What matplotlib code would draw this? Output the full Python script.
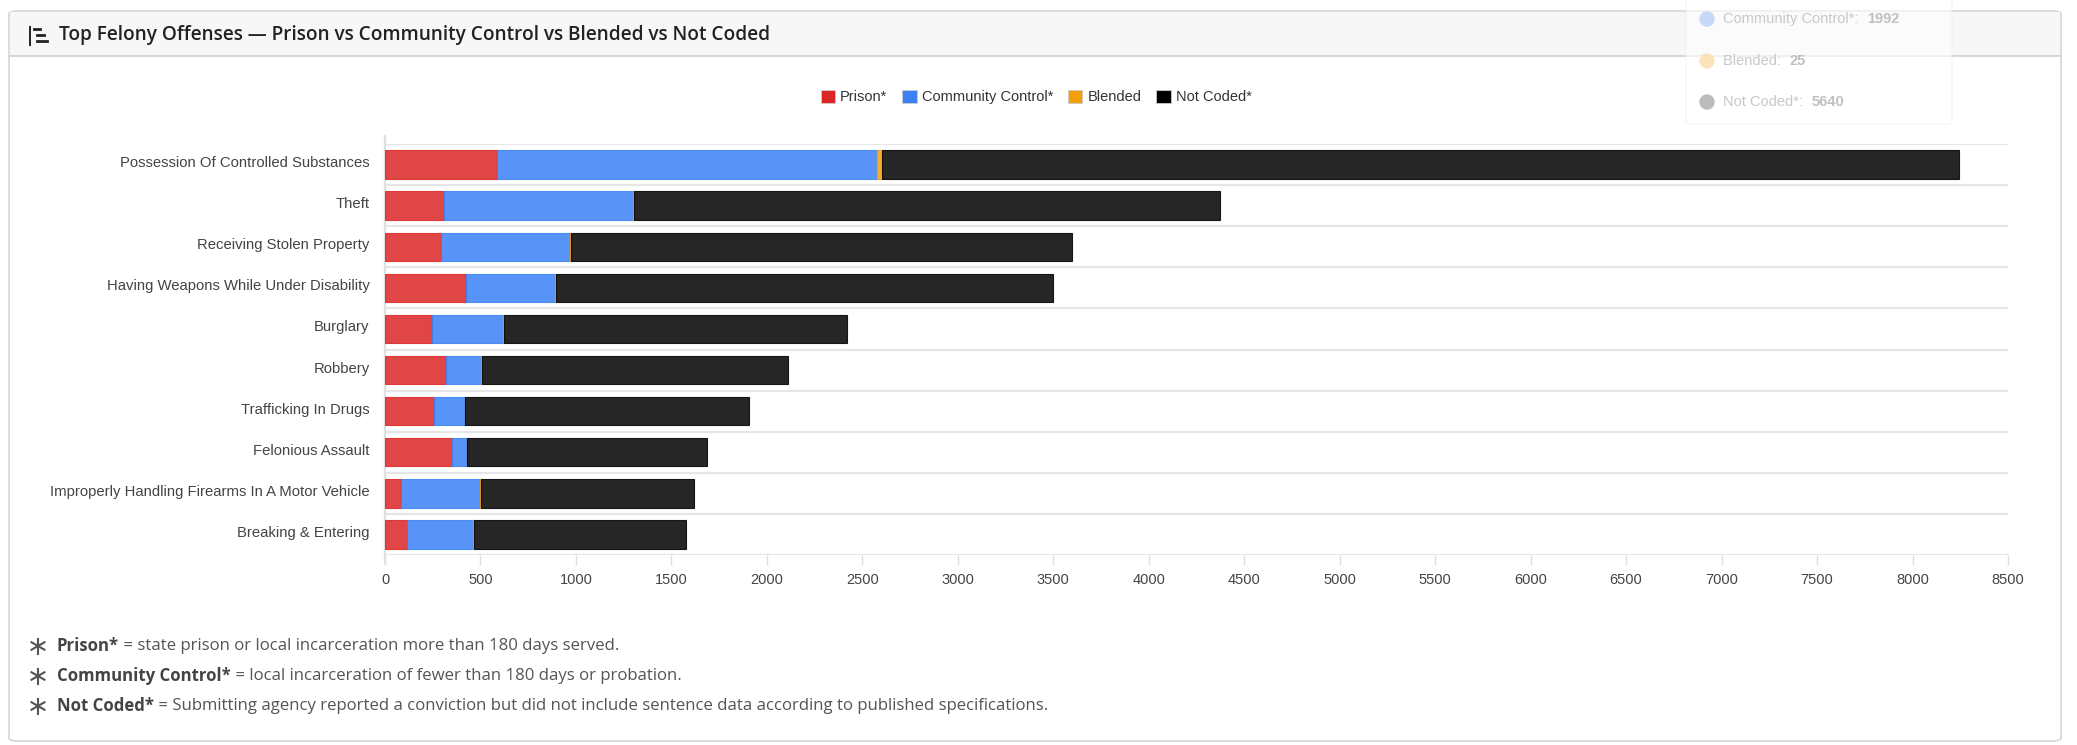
import math
import matplotlib.pyplot as plt
import matplotlib.transforms as mtransforms
from matplotlib.patches import Patch, FancyBboxPatch, Rectangle, Ellipse
from matplotlib.lines import Line2D

offenses = [
    "Possession Of Controlled Substances",
    "Theft",
    "Receiving Stolen Property",
    "Having Weapons While Under Disability",
    "Burglary",
    "Robbery",
    "Trafficking In Drugs",
    "Felonious Assault",
    "Improperly Handling Firearms In A Motor Vehicle",
    "Breaking & Entering",
]
prison = [585, 308, 294, 422, 248, 318, 255, 350, 83, 117]
community = [1992, 990, 674, 468, 370, 187, 162, 78, 417, 343]
blended = [25, 8, 5, 5, 5, 2, 2, 1, 1, 4]
not_coded = [5640, 3067, 2624, 2602, 1797, 1606, 1485, 1256, 1117, 1114]

series_names = ["Prison*", "Community Control*", "Blended", "Not Coded*"]
series_colors = ["#dc2626", "#3b82f6", "#f59e0b", "#000000"]
xticks = list(range(0, 8501, 500))

W, H = 2077, 745
fig = plt.figure(figsize=(W / 100, H / 100), dpi=100)
fig.patch.set_facecolor("white")


def fx(x):
    return x / W


def fy(y):
    return 1 - y / H


# card + header
card = FancyBboxPatch((fx(9), fy(741)), fx(2061) - fx(9), fy(11) - fy(741),
                      boxstyle="round,pad=0,rounding_size=0.004",
                      transform=fig.transFigure, facecolor="white",
                      edgecolor="#d6d6d6", linewidth=1.2, zorder=-2)
fig.patches.append(card)
fig.patches.append(Rectangle((fx(10), fy(56)), fx(2060) - fx(10), fy(12) - fy(56),
                             transform=fig.transFigure, facecolor="#f7f7f7",
                             edgecolor="none", zorder=-1))
fig.lines.append(Line2D([fx(10), fx(2060)], [fy(56), fy(56)], transform=fig.transFigure,
                        color="#d0d0d0", linewidth=1.2, zorder=1))

# header icon
fig.lines.append(Line2D([fx(30), fx(30)], [fy(27), fy(45)], transform=fig.transFigure,
                        color="#222222", linewidth=1.4))
for y0, x0, x1 in [(29, 34, 40), (35, 37, 44), (41, 37, 47)]:
    fig.lines.append(Line2D([fx(x0), fx(x1)], [fy(y0), fy(y0)], transform=fig.transFigure,
                            color="#222222", linewidth=2.0))
fig.text(fx(59), fy(35), "Top Felony Offenses \u2014 Prison vs Community Control vs Blended vs Not Coded",
         fontsize=13.7, fontweight="semibold", family="Open Sans", color="#222222", va="center")

# chart
ax = fig.add_axes([fx(385), fy(555), fx(2008) - fx(385), fy(144) - fy(555)])
ax.set_zorder(2)
y = list(range(len(offenses)))
left = [0] * len(offenses)
for vals, color in zip([prison, community, blended, not_coded], series_colors):
    ax.barh(y, vals, left=left, height=0.69, color=color, alpha=0.85,
            edgecolor=color, linewidth=0.8, zorder=3)
    left = [a + b for a, b in zip(left, vals)]

ax.set_xlim(0, 8500)
ax.set_ylim(len(offenses) - 0.5, -0.5)
ax.set_xticks(xticks)
ax.set_xticklabels([str(t) for t in xticks])
ax.set_yticks(y)
ax.set_yticklabels(offenses)
ax.set_yticks([i - 0.5 for i in range(len(offenses) + 1)], minor=True)
ax.grid(True, axis="y", which="minor", color="#e6e6e6", linewidth=1.6, zorder=0)
ax.tick_params(axis="y", which="major", length=0, pad=11, labelsize=10.7, labelcolor="#444444")
ax.tick_params(axis="y", which="minor", length=0)
ax.tick_params(axis="x", length=7, width=1, color="#e0e0e0", pad=6,
               labelsize=10.5, labelcolor="#444444")
lift = mtransforms.ScaledTranslation(0, 3 / 100, fig.dpi_scale_trans)
for lab in ax.get_yticklabels():
    lab.set_transform(lab.get_transform() + lift)
for lab in ax.get_xticklabels() + ax.get_yticklabels():
    lab.set_family("Liberation Sans")
for s in ["top", "right", "bottom"]:
    ax.spines[s].set_visible(False)
ax.spines["left"].set_color("#e0e0e0")
ax.spines["left"].set_linewidth(1.6)
ax.spines["left"].set_bounds(-0.5 - 0.2, len(offenses) - 0.5 + 0.2)
ax.set_facecolor("none")

# legend
handles = [Patch(facecolor=c, edgecolor="#cccccc", linewidth=0.6) for c in series_colors]
leg = fig.legend(handles, series_names, loc="center", bbox_to_anchor=(fx(1036), fy(97)),
                 ncol=4, frameon=False, handlelength=1.0, handleheight=1.0,
                 handletextpad=0.35, columnspacing=1.0,
                 prop={"family": "Liberation Sans", "size": 10.5})
for t in leg.get_texts():
    t.set_color("#333333")

# footnotes
notes = [
    ("Prison*", " = state prison or local incarceration more than 180 days served."),
    ("Community Control*", " = local incarceration of fewer than 180 days or probation."),
    ("Not Coded*", " = Submitting agency reported a conviction but did not include sentence data according to published specifications."),
]
renderer = fig.canvas.get_renderer()
for (bold, rest), yy in zip(notes, [646, 676, 706]):
    # thin six-spoke asterisk bullet
    for ang in (90, 30, -30):
        dx = 7.5 * math.cos(math.radians(ang))
        dy = 7.5 * math.sin(math.radians(ang))
        fig.lines.append(Line2D([fx(38 - dx), fx(38 + dx)], [fy(yy + dy), fy(yy - dy)],
                                transform=fig.transFigure, color="#555555", linewidth=1.5))
    tb = fig.text(fx(57), fy(yy), bold, fontsize=12.1, fontweight="bold",
                  family="Open Sans", color="#444444", va="center")
    bb = tb.get_window_extent(renderer=renderer)
    fig.text(bb.x1 / W, fy(yy), rest, fontsize=12.1, family="Open Sans",
             color="#555555", va="center")

# faded tooltip overlay (top right)
tip = FancyBboxPatch((fx(1686), fy(124)), fx(1952) - fx(1686), fy(-10) - fy(124),
                     boxstyle="round,pad=0,rounding_size=0.003", transform=fig.transFigure,
                     facecolor="white", edgecolor="#f0f0f0", alpha=0.62, zorder=5)
fig.patches.append(tip)
tip_rows = [("Community Control*:", str(community[0]), "#c6d9f8", 19),
            ("Blended:", str(blended[0]), "#fbe4bb", 61),
            ("Not Coded*:", str(not_coded[0]), "#bcbcbc", 102)]
for name, val, col, yy in tip_rows:
    fig.patches.append(Ellipse((fx(1707), fy(yy)), 14 / W, 14 / H, transform=fig.transFigure,
                               color=col, zorder=6))
    t1 = fig.text(fx(1723), fy(yy), name + "  ", fontsize=10.5, family="Liberation Sans",
                  color="#c8c8c8", va="center", zorder=7)
    b1 = t1.get_window_extent(renderer=renderer)
    fig.text(b1.x1 / W, fy(yy), val, fontsize=10.5, fontweight="bold",
             family="Liberation Sans", color="#c0c0c0", va="center", zorder=7)

fig.savefig("out.png", dpi=100)
